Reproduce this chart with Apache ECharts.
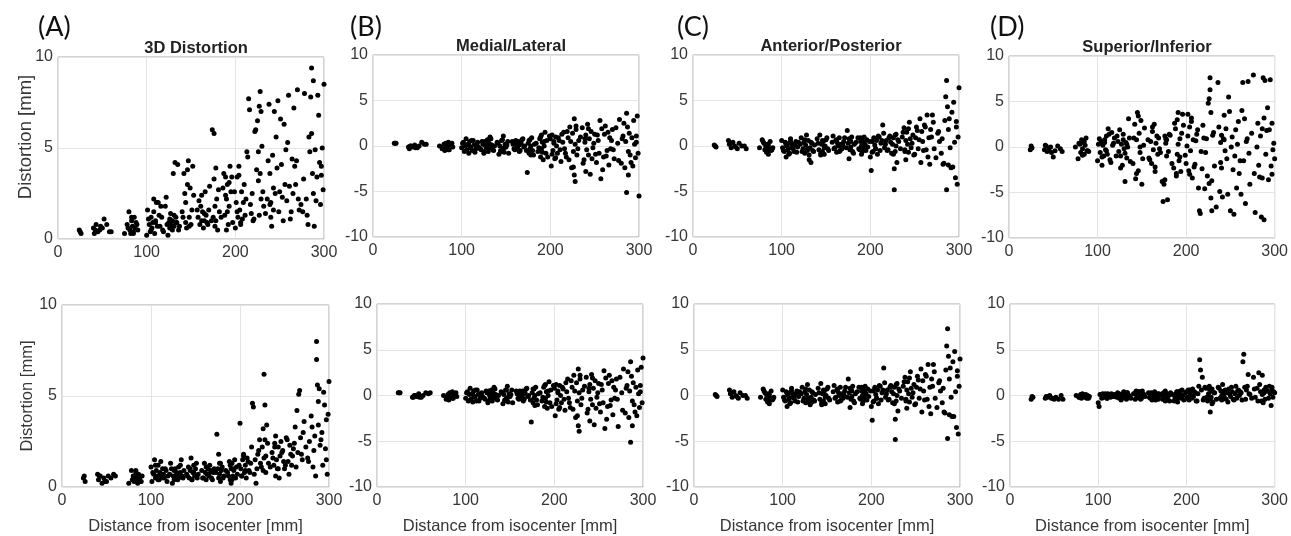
<!DOCTYPE html>
<html>
<head>
<meta charset="utf-8">
<script src="https://cdn.jsdelivr.net/npm/echarts@6/dist/echarts.min.js"></script>
<style>
html,body{margin:0;padding:0;background:#fff;}
#chart{width:1291px;height:536px;}
</style>
</head>
<body>
<div id="chart"></div>
<script>
// distances from isocenter [mm], shared by every panel (one row per cluster,
// second half = second pass through the same clusters)
const dist = [
  24,25,26,
  40,41,43,45,47,50,52,55,60,
  75,78,80,81,82,83,84,85,86,87,88,90,
  100,101,103,104,105,106,107,108,109,110,111,112,114,116,118,
  122,124,125,126,127,128,129,130,131,132,133,134,136,
  140,142,143,144,145,146,147,148,149,150,152,
  158,160,161,162,163,164,165,166,167,168,170,
  174,175,176,176,177,178,178,179,180,182,
  186,188,189,190,190,191,192,193,194,195,196,
  200,201,202,203,204,205,206,207,208,210,212,214,215,216,
  218,220,222,224,225,226,227,227,228,228,229,230,232,
  236,238,239,240,240,241,242,243,244,245,246,
  248,250,252,254,255,256,257,258,260,
  262,264,265,266,267,268,270,272,
  276,278,280,282,284,285,286,286,287,288,288,289,290,
  292,293,294,295,296,297,298,299,300,
  42,48,58,79,83,85,89,
  102,105,108,110,113,115,117,119,
  121,123,126,129,131,133,135,137,
  141,144,146,148,151,153,
  157,159,162,165,169,171,
  173,177,181,184,187,189,191,193,197,
  199,202,204,206,209,211,213,
  217,219,221,223,226,229,231,234,
  237,239,243,247,249,251,253,259,
  261,263,269,271,274,277,281,283,291,297
];

// top row
const top3D = [
  0.5,0.4,0.3,
  0.6,0.3,0.8,0.4,0.5,0.6,1.1,0.8,0.4,
  0.3,0.8,1.5,0.5,0.3,1.0,0.7,0.4,1.2,0.6,0.9,0.5,
  0.2,1.6,0.8,0.4,1.2,0.6,0.9,2.2,0.3,1.0,2.0,0.7,1.3,1.8,0.5,
  2.3,0.2,0.9,0.6,1.4,0.8,1.0,3.6,0.7,4.2,1.2,0.9,0.5,
  1.5,3.6,2.5,0.9,0.6,3.0,4.3,1.2,2.8,0.8,4.0,
  1.2,0.8,1.8,2.4,1.5,0.6,1.0,2.6,1.3,0.9,1.6,
  6.0,1.2,5.8,3.3,0.7,3.9,1.0,2.2,0.5,1.5,
  2.8,1.3,3.4,0.5,2.2,3.0,0.8,1.8,4.0,2.6,3.4,
  0.6,2.0,3.4,1.2,4.0,1.6,0.8,2.6,1.1,3.0,2.2,4.5,7.7,7.1,
  1.4,1.0,5.9,3.8,6.5,4.8,7.3,1.3,8.1,3.6,2.2,5.1,1.8,
  2.2,7.4,3.6,1.2,2.0,0.7,4.6,1.6,7.0,2.5,5.6,
  7.6,2.6,4.1,1.0,6.3,3.0,4.9,2.1,7.9,
  1.1,4.4,2.5,7.2,4.0,3.0,8.2,1.6,
  1.5,8.0,2.2,0.8,4.8,7.8,9.4,5.8,3.6,2.5,8.7,0.7,4.9,
  3.4,7.9,6.8,4.2,1.9,3.5,5.0,2.7,8.5,
  0.5,0.7,0.4,0.6,1.2,0.3,0.8,
  1.1,0.5,1.5,0.9,2.0,0.7,1.2,0.4,
  1.8,0.8,1.1,0.5,1.3,0.9,4.1,0.7,
  1.2,2.0,3.8,0.7,1.6,2.4,
  1.6,2.1,1.0,1.4,0.8,2.9,
  1.0,1.8,2.7,1.2,3.6,2.4,1.5,3.1,0.9,
  2.6,1.5,3.5,0.9,2.0,1.3,4.8,
  1.9,2.5,1.1,6.0,3.2,7.0,2.6,1.4,
  4.3,1.9,2.8,3.9,1.5,6.6,2.3,5.3,
  2.9,1.5,4.3,2.2,1.9,3.3,1.3,5.6,2.1,4.0
];
const topML = [
  0.3,0.3,0.3,
  -0.1,-0.3,0.0,-0.1,0.1,-0.2,0.0,0.4,0.2,
  0.0,-0.3,0.2,-0.5,0.3,-0.2,0.0,0.4,-0.4,0.1,0.2,-0.1,
  -0.2,0.3,-0.6,0.0,0.8,-0.4,0.2,-0.8,0.5,-0.1,0.6,-0.5,0.1,-0.3,0.4,
  -0.4,0.2,-0.8,0.5,0.0,-0.3,0.7,-0.6,0.3,1.0,-0.2,0.1,-0.5,
  0.4,-0.9,0.0,-0.5,0.6,-0.3,1.1,-0.7,0.2,-0.1,0.5,
  0.2,-0.4,0.6,0.0,-0.2,0.5,0.1,-0.5,0.3,0.7,-0.1,
  -2.9,0.3,-0.8,0.6,-0.3,0.0,-1.0,0.9,-0.5,0.2,
  -0.6,0.8,-1.2,1.2,-0.3,0.4,-1.5,0.0,1.5,-0.8,0.6,
  0.8,-2.2,1.2,-0.5,0.3,-1.4,1.0,0.0,-0.8,0.6,-1.7,0.4,1.5,-0.3,
  -1.2,0.9,2.1,-2.4,1.4,-0.6,3.0,-3.2,0.2,-3.9,1.8,-1.0,0.6,
  2.0,-1.5,0.4,-2.8,1.2,-0.4,2.4,-1.0,0.8,-3.1,1.6,
  -0.2,1.3,-1.8,0.6,-0.8,2.8,-3.6,1.9,-1.2,
  2.2,-0.5,1.5,-2.1,0.9,-0.3,1.8,-1.4,
  0.3,2.9,-1.9,1.1,-2.4,0.5,3.6,-5.1,2.1,-0.6,-3.2,1.4,-1.0,
  0.9,-2.2,2.8,0.2,-1.3,1.1,3.3,-0.8,-5.5,
  0.0,-0.2,0.2,-0.3,0.1,-0.4,0.3,
  0.4,-0.5,0.1,-0.2,0.6,-0.7,0.2,-0.1,
  -0.3,0.5,-0.6,0.2,-0.1,0.8,-0.4,0.0,
  0.3,-0.6,0.7,-0.2,0.1,-0.8,
  0.5,-0.3,0.2,-0.6,0.8,0.0,
  -0.5,0.7,-1.0,0.3,-0.2,1.0,-0.7,0.5,-1.2,
  1.1,-0.9,0.5,-1.3,0.9,-0.4,1.3,
  -0.8,1.6,-1.5,0.5,-2.3,2.2,-0.3,1.0,
  -1.9,0.8,1.9,-1.4,0.3,-0.9,1.2,-2.6,
  1.3,-1.1,0.6,-0.4,2.0,-1.6,0.8,2.5,-1.8,0.4
];
const topAP = [
  0.1,0.0,-0.1,
  0.6,0.2,-0.2,0.4,0.0,-0.3,0.3,0.0,-0.3,
  -0.2,0.7,0.3,-0.4,0.0,-0.6,0.2,-0.9,-0.3,0.5,-0.5,-0.2,
  0.6,-0.2,-0.6,0.4,-1.2,0.0,-0.4,0.3,-0.8,0.8,-0.2,0.2,-0.6,0.5,-0.1,
  0.9,-0.3,0.4,-0.8,0.1,1.2,-0.5,0.6,-1.5,-0.2,-1.8,0.3,-0.6,
  0.8,-0.4,1.2,-1.0,0.2,-0.6,0.5,-0.9,0.0,0.7,-0.3,
  1.1,-0.2,0.6,-0.7,0.3,0.0,0.9,-0.5,0.2,-0.3,0.5,
  1.7,0.3,-1.4,0.8,-0.4,0.5,-0.1,1.0,-0.6,0.2,
  0.9,-0.4,0.5,0.0,-0.9,0.6,-0.2,1.0,0.2,-0.5,0.7,
  -1.2,-2.7,0.5,-0.6,0.9,0.1,-0.3,0.6,-0.9,1.0,0.3,2.3,1.4,-0.2,
  0.6,-0.4,1.1,-0.8,0.2,0.9,-4.8,-2.5,1.2,-0.6,0.0,-1.8,0.5,
  1.0,2.0,-0.4,0.6,-1.5,1.5,0.2,-0.7,2.6,0.8,-0.2,
  1.2,-0.9,2.1,-0.3,0.7,3.0,-1.8,1.6,-0.5,
  2.1,3.4,-1.2,0.9,-2.0,1.8,3.4,-0.3,
  1.4,0.5,-0.8,-2.0,2.8,5.4,7.2,-4.8,4.3,1.8,-2.1,3.0,-0.2,
  3.7,-2.3,4.8,0.4,-3.5,2.1,-4.2,1.0,6.4,
  0.3,-0.1,0.0,0.5,-0.7,0.1,-0.4,
  -0.5,0.2,-0.9,0.5,-0.3,0.1,-0.7,0.4,
  0.2,-0.6,0.7,-0.3,-1.0,0.4,-0.5,0.1,
  0.3,-0.8,0.6,-0.2,0.9,-0.5,
  0.4,-0.3,0.7,-0.6,0.1,0.9,
  -0.2,0.7,-0.8,0.4,-0.3,0.9,-0.6,0.3,-0.1,
  0.5,-0.7,0.8,-0.3,1.1,-0.5,0.6,
  0.2,-0.5,0.9,0.4,-0.9,1.3,0.7,-0.3,
  1.5,-0.6,1.9,0.3,-1.0,0.9,1.7,0.5,
  2.3,-0.4,1.0,2.6,-1.3,1.6,0.8,-1.9,-2.4,2.7
];
const topSI = [
  -0.3,0.1,-0.1,
  -0.3,0.2,-0.5,-0.3,0.0,-1.1,-0.4,0.1,-0.5,
  0.0,-1.3,0.3,-0.6,0.8,-0.2,0.5,-0.8,0.2,1.0,-0.4,-0.5,
  -1.5,0.3,-0.6,0.6,-2.0,0.2,-1.0,0.8,-0.3,1.2,-0.8,2.0,-1.4,1.6,0.4,
  1.2,-0.5,1.9,-1.0,0.3,-2.0,0.8,-0.2,-3.8,0.5,-1.2,0.0,1.0,
  -1.8,2.5,-3.5,0.8,3.8,-2.6,1.5,-0.6,2.9,-4.1,0.2,
  -1.2,0.6,-1.8,1.7,-0.3,2.5,-2.2,0.4,1.2,-0.8,-0.2,
  -6.0,-4.1,1.2,-3.6,0.4,-1.0,0.8,-5.8,-0.5,1.3,
  -2.3,2.0,-3.2,3.0,-0.8,3.8,-1.5,0.9,-2.7,1.5,3.6,
  -1.8,0.1,3.6,-2.6,2.2,-0.4,2.8,-3.4,0.8,-1.9,1.4,-4.5,-7.0,-7.3,
  -2.4,1.0,-0.6,-3.2,4.8,-4.0,6.3,7.6,-5.6,3.8,-7.0,1.3,-2.1,
  7.1,-4.9,0.5,1.3,-2.3,-5.5,0.9,3.5,-0.4,2.0,-1.3,
  5.5,-7.0,1.1,-7.4,-1.0,1.9,-4.5,0.3,-2.9,
  -5.2,7.1,-1.5,3.1,-6.2,0.6,7.2,-4.1,
  7.9,-7.2,0.0,-2.0,1.2,-7.7,2.0,-3.4,7.6,-8.0,3.2,7.3,-0.8,
  4.3,-3.6,1.9,7.4,-2.1,2.6,-0.3,0.4,-1.3,
  0.1,-0.6,-0.2,0.4,-0.9,0.6,-0.4,
  0.9,-1.1,0.5,-0.4,1.4,-1.7,0.2,1.0,
  -1.0,0.6,-2.3,1.4,-0.7,0.3,3.1,-1.6,
  1.0,-2.9,3.4,0.0,-1.3,2.1,
  0.8,-1.4,2.2,-2.7,1.0,-0.6,
  -3.8,0.9,1.4,-1.8,2.6,-2.9,0.3,-1.1,2.4,
  -0.9,1.2,-3.0,3.2,-2.2,0.7,1.9,
  -0.5,2.4,-4.6,0.9,5.3,-3.7,1.6,-6.6,
  2.2,-1.7,0.8,-5.2,3.9,0.0,-2.5,2.8,
  -1.5,4.0,0.9,-0.7,1.5,-2.9,2.6,-3.3,1.8,-3.0
];

// bottom row
const bot3D = [
  0.5,0.6,0.3,
  0.7,0.4,0.6,0.2,0.5,0.3,0.6,0.5,0.6,
  0.2,0.9,0.6,0.3,0.5,0.8,0.4,0.2,0.7,0.5,0.3,0.6,
  1.1,0.3,0.7,1.5,0.5,0.9,0.6,1.2,0.4,0.8,1.4,0.5,0.7,1.0,0.3,
  1.3,0.2,0.6,0.9,1.0,0.5,0.7,0.4,1.1,0.6,0.8,1.5,0.5,
  0.7,1.1,0.5,0.9,1.6,0.4,0.8,1.2,0.6,1.0,0.5,
  0.5,1.3,0.8,0.4,0.7,1.0,0.6,1.2,0.9,0.5,0.8,
  2.9,1.0,1.8,0.5,0.7,1.3,0.3,0.9,1.1,0.6,
  0.8,1.4,0.4,1.0,0.2,1.3,0.6,0.9,1.5,0.5,1.1,
  3.5,1.0,0.6,1.5,1.8,0.8,1.2,0.5,1.6,0.9,1.3,4.6,4.4,0.7,
  0.2,1.8,2.6,1.1,2.2,3.2,1.6,6.2,2.6,4.5,0.8,3.4,1.3,
  1.9,1.2,2.4,0.6,2.8,1.5,1.0,2.2,0.5,1.7,2.5,
  2.0,1.0,2.7,1.4,0.7,2.3,1.8,1.2,2.1,
  3.3,4.2,1.9,5.1,5.3,2.7,1.5,3.6,
  1.6,2.5,3.9,1.1,2.8,0.6,8.0,7.0,5.6,3.4,4.7,5.4,2.3,
  3.0,1.2,5.2,4.5,2.1,3.7,0.7,4.0,5.8,
  0.6,0.3,0.7,0.4,0.9,0.6,0.3,
  0.8,1.2,0.4,0.6,1.0,0.5,0.9,0.6,
  0.7,1.0,0.4,0.8,0.5,1.2,0.6,0.9,
  0.6,1.0,0.4,0.8,1.3,0.7,
  0.9,0.5,1.1,0.7,0.4,1.0,
  0.8,1.3,0.5,0.9,0.6,1.2,0.4,1.0,0.7,
  1.2,0.6,1.7,0.9,1.4,0.8,2.2,
  1.5,1.0,2.0,1.3,0.9,1.7,2.4,1.1,
  1.6,2.2,1.0,1.9,1.4,1.2,2.6,1.7,
  2.4,1.1,1.8,3.0,2.2,1.4,3.3,2.0,2.6,1.5
];
const botML = [
  0.3,0.3,0.3,
  -0.2,-0.2,0.0,-0.1,0.2,-0.2,0.0,0.3,0.3,
  0.0,-0.4,0.1,-0.5,0.3,-0.2,0.1,0.4,-0.3,0.0,0.2,-0.1,
  -0.3,0.3,-0.6,0.1,0.8,-0.4,0.2,-0.7,0.5,-0.1,0.6,-0.6,0.1,-0.3,0.3,
  -0.4,0.3,-0.8,0.5,0.0,-0.3,0.6,-0.6,0.3,0.9,-0.2,0.1,-0.5,
  0.4,-0.9,0.1,-0.5,0.6,-0.3,1.0,-0.7,0.2,-0.1,0.6,
  0.2,-0.4,0.5,0.0,-0.2,0.5,0.1,-0.4,0.3,0.7,-0.1,
  -2.9,0.3,-0.8,0.7,-0.3,0.0,-1.1,0.9,-0.5,0.2,
  -0.6,0.9,-1.2,1.2,-0.3,0.4,-1.4,0.0,1.5,-0.8,0.6,
  0.8,-2.2,1.2,-0.5,0.3,-1.5,1.1,0.0,-0.8,0.7,-1.6,0.4,1.8,-0.3,
  -1.3,0.9,2.2,-2.4,1.4,-0.6,2.9,-3.3,0.3,-3.9,1.8,-1.0,0.6,
  2.0,-1.5,0.4,-2.8,1.2,-0.4,2.3,-1.0,0.8,-3.2,1.6,
  -0.2,1.3,-1.8,0.6,-0.8,2.7,-3.6,1.9,-1.2,
  2.2,-0.5,1.6,-2.1,0.9,-0.3,1.8,-3.4,
  0.3,2.9,-1.9,1.1,-2.4,0.5,3.7,-5.1,2.1,-0.6,-3.3,1.4,-1.0,
  0.9,-2.2,2.8,0.2,-1.3,1.1,3.1,-0.8,4.1,
  0.0,-0.2,0.2,-0.3,0.1,-0.3,0.3,
  0.4,-0.5,0.1,-0.2,0.6,-0.6,0.2,-0.1,
  -0.3,0.5,-0.6,0.2,-0.1,0.7,-0.4,0.0,
  0.3,-0.6,0.6,-0.2,0.1,-0.8,
  0.5,-0.3,0.2,-0.6,0.8,0.0,
  -0.5,0.7,-1.0,0.3,-0.2,1.1,-0.7,0.5,-1.2,
  1.1,-0.9,0.5,-1.3,0.9,-0.4,1.4,
  -0.8,1.6,-1.5,0.5,-2.2,2.2,-0.3,1.0,
  -1.9,0.8,1.9,-1.4,0.3,-0.9,1.2,-2.6,
  1.3,-1.1,0.6,-0.4,2.0,-1.6,0.8,2.6,-1.8,0.4
];
const botAP = [
  0.1,0.0,-0.1,
  0.6,0.2,-0.2,0.4,0.0,-0.3,0.3,0.0,-0.3,
  -0.2,0.7,0.3,-0.4,0.0,-0.6,0.2,-0.9,-0.3,0.5,-0.5,-0.2,
  0.6,-0.2,-0.6,0.4,-1.2,0.0,-0.4,0.3,-0.8,0.8,-0.2,0.2,-0.6,0.5,-0.1,
  0.9,-0.3,0.4,-0.8,0.1,1.2,-0.5,0.6,-0.9,-0.2,-0.7,0.3,-0.6,
  0.8,-0.4,1.3,-1.0,0.2,-0.6,0.5,-0.9,0.0,0.7,-0.3,
  1.1,-0.2,0.6,-0.7,0.3,0.0,0.9,-0.5,0.2,-0.3,0.5,
  1.8,0.3,-1.3,0.8,-0.4,0.5,-0.1,1.0,-0.6,0.2,
  0.9,-0.4,0.5,0.0,-0.9,0.6,-0.2,1.0,0.2,-0.5,0.7,
  -1.2,-2.7,0.5,-0.6,0.9,0.1,-0.3,0.6,-0.9,1.0,0.3,3.0,1.4,-0.2,
  0.6,-0.4,1.1,-0.8,0.2,0.9,-4.8,-2.6,1.2,-0.6,0.0,-1.7,0.5,
  1.0,2.0,-0.4,0.6,-1.4,1.5,0.2,-0.7,2.6,0.8,-0.2,
  1.2,-0.9,2.1,-0.3,0.7,2.9,-1.8,1.6,-0.5,
  2.1,3.4,-1.2,0.9,-2.0,1.8,3.4,-0.3,
  1.4,0.5,-0.8,-1.8,2.8,5.4,7.3,-4.7,4.3,1.8,-2.1,3.0,-0.2,
  3.7,-2.3,4.8,0.4,-3.5,2.1,-4.2,1.0,4.0,
  0.3,-0.1,0.0,0.5,-0.7,0.1,-0.4,
  -0.5,0.2,-0.9,0.5,-0.3,0.1,-0.7,0.4,
  0.2,-0.6,0.7,-0.3,-1.0,0.4,-0.5,0.1,
  0.3,-0.8,0.6,-0.2,0.9,-0.5,
  0.4,-0.3,0.7,-0.6,0.1,0.9,
  -0.2,0.7,-0.8,0.4,-0.3,0.9,-0.6,0.3,-0.1,
  0.5,-0.7,0.8,-0.3,1.1,-0.5,0.6,
  0.2,-0.5,0.9,0.4,-0.9,1.3,0.7,-0.3,
  1.5,-0.6,1.9,0.3,-1.0,0.9,1.7,0.5,
  2.3,-0.4,1.0,2.6,-1.3,1.6,0.8,-1.9,-2.3,2.7
];
const botSI = [
  -0.4,-0.1,-0.2,
  -0.3,-0.1,-0.2,0.0,-0.3,-0.4,-0.2,-0.4,-0.4,
  0.0,-0.2,0.1,-0.3,0.2,-0.1,0.0,-0.2,0.1,-0.3,0.0,-0.1,
  -0.8,-1.2,0.1,-0.3,0.2,-0.1,0.0,-0.2,0.1,-0.3,0.2,0.0,-0.2,0.1,-0.1,
  0.3,-0.3,0.0,-0.5,0.2,-0.1,0.4,-0.2,0.1,-0.4,0.3,0.0,-0.2,
  0.2,-0.4,0.5,-0.1,0.3,-0.2,0.4,0.0,-0.3,0.5,0.1,
  -0.2,0.3,-0.5,0.1,-0.3,0.4,0.0,-0.2,0.2,-0.4,0.1,
  0.3,-0.2,0.5,-0.6,0.1,-0.3,0.2,-0.5,0.0,0.3,
  -0.6,0.2,-0.4,0.4,-0.7,0.1,-0.2,0.5,-0.3,0.6,0.0,
  0.4,-0.2,0.6,-0.5,0.2,0.0,-0.3,0.7,-0.1,0.3,-0.6,1.0,3.9,2.8,
  2.0,-0.3,0.8,-0.6,0.2,1.0,-0.4,-1.8,0.5,-0.2,0.7,-0.7,0.3,
  0.9,-0.3,0.5,0.0,-0.5,1.2,0.2,-0.2,0.6,-0.4,0.3,
  0.7,-0.1,0.4,-0.5,0.2,1.0,-0.3,0.5,0.0,
  0.3,3.7,4.5,0.9,-0.4,0.6,2.3,0.1,
  2.0,-0.2,0.8,2.5,0.4,-0.6,2.2,0.1,-0.8,0.6,0.3,-0.4,0.9,
  0.5,-0.3,1.0,0.2,-1.1,0.6,-0.2,0.4,0.3,
  -0.1,-0.3,0.0,-0.2,0.1,-0.1,-0.3,
  0.1,-0.2,0.2,-0.3,0.0,0.2,-0.1,0.1,
  -0.2,0.2,-0.4,0.1,-0.1,0.3,0.0,-0.3,
  0.2,-0.2,0.4,-0.4,0.1,-0.1,
  0.3,-0.3,0.1,-0.5,0.2,0.0,
  -0.4,0.2,-0.6,0.1,-0.3,0.4,-0.2,0.2,-0.5,
  0.3,-0.4,0.6,-0.2,0.4,-0.6,0.2,
  0.6,-0.5,0.9,-0.2,0.7,-0.9,0.3,-0.4,
  0.8,-0.3,0.5,-0.7,0.2,0.9,-0.4,0.6,
  0.4,-0.5,1.0,0.2,-0.3,0.7,-0.6,1.2,0.5,0.9
];

const panelLetters = ['(A)', '(B)', '(C)', '(D)'];
const panelTitles = ['3D Distortion', 'Medial/Lateral', 'Anterior/Posterior', 'Superior/Inferior'];
const xTicks = [0, 100, 200, 300];
const yRange3D = [0, 10];
const yRangeDir = [-10, 10];

// plot boxes [left, top, width, height]
const boxes = [
  [58, 57, 266, 182], [373, 55, 266, 182], [693, 55, 266, 182], [1009, 56, 266, 182],
  [62, 305, 267, 183], [377, 304, 266, 184], [694, 304, 266, 184], [1010, 304, 266, 184]
];
const letterLeft = [33, 345, 672, 985];
const panelData = [top3D, topML, topAP, topSI, bot3D, botML, botAP, botSI];

const txt = '#363636';
const font = '"Liberation Sans", Arial, sans-serif';

let grids = [], xAxes = [], yAxes = [], series = [], titles = [], labels = [];

panelData.forEach((ys, i) => {
  const b = boxes[i];
  const col = i % 4;
  const bottomRow = i >= 4;
  grids.push({
    left: b[0], top: b[1], width: b[2], height: b[3],
    show: true, borderColor: '#a8a8a8', borderWidth: 1, backgroundColor: '#fff'
  });
  xAxes.push({
    gridIndex: i, type: 'value',
    min: xTicks[0], max: xTicks[xTicks.length - 1], interval: 100,
    name: bottomRow ? 'Distance from isocenter [mm]' : '',
    nameLocation: 'middle', nameGap: 31,
    nameTextStyle: {color: txt, fontSize: 16.5, fontFamily: font},
    axisLine: {show: false},
    axisTick: {show: false},
    axisLabel: {color: txt, fontSize: 16, fontFamily: font, margin: 6},
    splitLine: {show: true, lineStyle: {color: '#e4e4e4', width: 1}}
  });
  const r = col === 0 ? yRange3D : yRangeDir;
  yAxes.push({
    gridIndex: i, type: 'value', min: r[0], max: r[1], interval: 5,
    axisLine: {show: false},
    axisTick: {show: false},
    axisLabel: {color: txt, fontSize: 16, fontFamily: font, margin: 5},
    splitLine: {show: true, lineStyle: {color: '#e4e4e4', width: 1}}
  });
  const pts = [];
  dist.forEach((x, k) => { if (ys[k] !== undefined) pts.push([x, ys[k]]); });
  series.push({
    type: 'scatter', xAxisIndex: i, yAxisIndex: i, data: pts,
    symbol: 'circle', symbolSize: 5,
    itemStyle: {color: '#000', opacity: 1}, silent: true
  });
  if (!bottomRow) {
    titles.push({
      text: panelTitles[col], left: b[0] + b[2] / 2, top: b[1] - 22, textAlign: 'center',
      textStyle: {color: '#222', fontSize: 16.5, fontWeight: 'bold', fontFamily: font}
    });
    titles.push({
      text: panelLetters[col], left: letterLeft[col], top: 9,
      textStyle: {color: '#111', fontSize: 27, fontWeight: 'normal', fontFamily: 'Lato, "Open Sans", sans-serif'}
    });
  }
});

// y axis names (column A only)
labels.push({
  type: 'text', x: 26, y: 137, rotation: Math.PI / 2,
  style: {text: 'Distortion [mm]', fill: txt, font: '18.5px ' + font, align: 'center', verticalAlign: 'middle'}
});
labels.push({
  type: 'text', x: 27, y: 396, rotation: Math.PI / 2,
  style: {text: 'Distortion [mm]', fill: txt, font: '16.5px ' + font, align: 'center', verticalAlign: 'middle'}
});

const chart = echarts.init(document.getElementById('chart'), null, {renderer: 'canvas'});
chart.setOption({
  animation: false,
  backgroundColor: '#fff',
  title: titles,
  grid: grids,
  xAxis: xAxes,
  yAxis: yAxes,
  series: series,
  graphic: labels
});
</script>
</body>
</html>
